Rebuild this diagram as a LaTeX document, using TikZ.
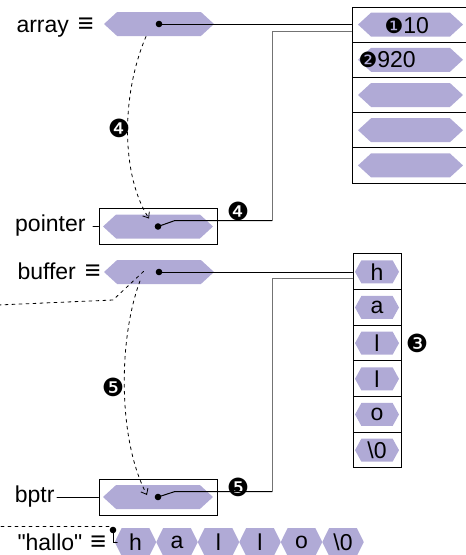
\documentclass[tikz,border=0pt]{standalone}
\usepackage{fontspec}
\setmainfont{Liberation Sans}
\newfontfamily\dingfont{DejaVu Sans}
\usetikzlibrary{shapes.symbols,arrows.meta}
\definecolor{lila}{RGB}{176,170,214}
\tikzset{
  hexa/.style={signal, signal to=east and west, signal pointer angle=85, fill=lila,
    inner sep=0pt, minimum width=110pt, minimum height=24pt},
  cell/.style={draw, inner sep=0pt, minimum width=118pt, minimum height=35.2pt},
  lab/.style={anchor=base west, inner sep=0pt},
  num/.style={font=\fontsize{25}{27}\dingfont, inner sep=0pt},
  ref/.style={dashed, dash pattern=on 3pt off 4pt, line width=0.8pt},
}
\begin{document}
\begin{tikzpicture}[x=1pt,y=-1pt,>={Straight Barb[length=5pt,width=8pt]},line width=1pt,line cap=round,
  every node/.append style={font=\fontsize{23}{27}\selectfont}]
\useasboundingbox (0,0) rectangle (466,555);
% array und sein Speicher
\node[hexa] (arr) at (159,24) {};
\node[lab] (arrlab) at (16,32) {array\hspace{9pt}{\fontsize{27}{27}\selectfont ≡}};
\foreach \i in {0,...,4} {
  \node[cell] (c\i) at (411,24.6+35.2*\i) {};
  \node[hexa, minimum width=105pt] (a\i) at (410.5,24.6+35.2*\i) {};
}
\node[lab] at (384,33) {{\fontsize{21}{21}\dingfont ❶}10};
\node[lab] at (358,67) {{\fontsize{21}{21}\dingfont ❷}920};
\fill (arr.center) circle (3.3);
\draw (arr.center) -- (arr.center -| c0.west);
% pointer
\node[draw, inner sep=0pt, minimum width=118pt, minimum height=36pt] (pbox) at (158,226) {};
\node[hexa] (ptr) at (158,226.5) {};
\node[anchor=east, inner sep=0pt] (plab) at (86,226) {pointer};
\draw ([xshift=7pt]plab.east) -- (pbox.west);
\fill (ptr.center) circle (3.3);
\draw (ptr.center) -- ++(17,-6) -- (272,220.5);
\draw[black!55] (272,220.5) |- ([yshift=-6.5pt]c0.west);
\node[num] at (238,211) {❹};
\draw[ref,->] ([xshift=-13pt]arr.south) .. controls (121,95) and (121,175) .. ([shift={(-9pt,8pt)}]ptr.center);
\node[num] at (119,128) {❹};
% buffer
\node[hexa] (buf) at (159,272) {};
\node[lab] (buflab) at (17,279) {buffer\hspace{9pt}{\fontsize{27}{27}\selectfont ≡}};
\foreach \c [count=\i from 0] in {h,a,l,l,o,\textbackslash0} {
  \node[cell, minimum width=48pt, minimum height=35.67pt] (b\i) at (377,271.8+35.67*\i) {};
  \node[hexa, signal pointer angle=122, minimum width=44pt, minimum height=23pt] (h\i) at (377,271.8+35.67*\i) {\c};
}
\node[num] at (417,343) {❸};
\fill (buf.center) circle (3.3);
\draw (buf.center) -- (buf.center -| b0.west);
% bptr
\node[draw, inner sep=0pt, minimum width=118pt, minimum height=36pt] (bbox) at (158,497) {};
\node[hexa] (bp) at (158,497) {};
\node[anchor=east, inner sep=0pt] (bplab) at (55,497) {bptr};
\draw ([xshift=2pt]bplab.east) -- (bbox.west);
\fill (bp.center) circle (3.3);
\draw (bp.center) -- ++(17,-5.5) -- (272,491.5);
\draw[black!55] (272,491.5) |- ([yshift=-6.5pt]b0.west);
\node[num] at (238,487) {❺};
\draw[ref,->] ([shift={(-19pt,-9pt)}]buf.center) .. controls (118,340) and (118,440) .. ([shift={(-11pt,2pt)}]bp.center);
\node[num] at (113,387) {❺};
% "hallo"
\node[lab] (hlab) at (17,550) {\textquotedbl hallo\textquotedbl\hspace{8pt}{\fontsize{27}{27}\selectfont ≡}};
\foreach \c [count=\i from 0] in {h,a,l,l,o,\textbackslash0}
  \node[hexa, signal pointer angle=127, minimum width=41.5pt, minimum height=28pt] (s\i) at (135.5+41.5*\i,542) {\c};
\coordinate (hd) at (113,530);
\fill (hd) circle (3.3);
\draw (hd) |- ([xshift=3pt]s0.west);
\draw[ref] ([shift={(-4pt,4pt)}]hd) -- ++(-115,0);
\draw[ref] (-2,305) -- (113,300) -- ([shift={(-15pt,1pt)}]buf.center);
\end{tikzpicture}
\end{document}
